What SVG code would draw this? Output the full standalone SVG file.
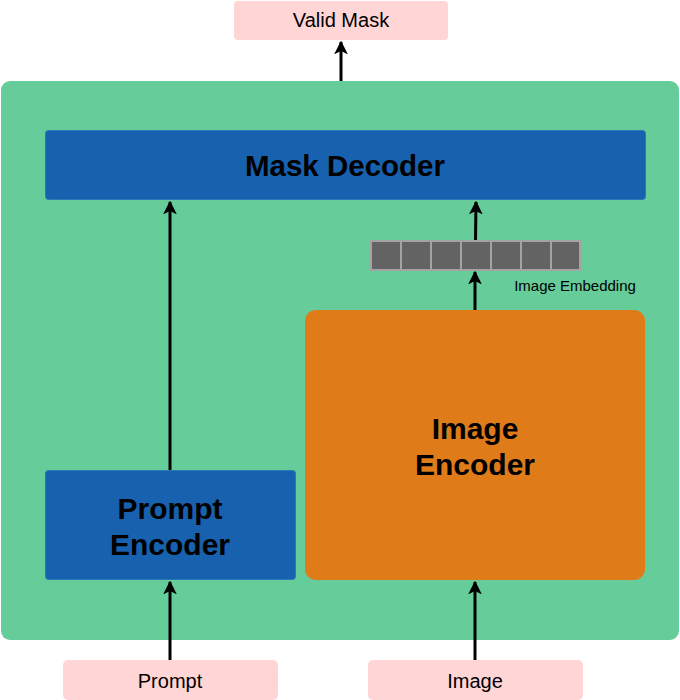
<svg xmlns="http://www.w3.org/2000/svg" width="680" height="700" viewBox="0 0 680 700">
<style>
.pink{fill:#FFD5D5;}
.blue{fill:#1761AE;stroke:#2a78b8;stroke-width:1;}
.lbl{font-family:"Liberation Sans",Arial,sans-serif;fill:#000;text-anchor:middle;}
.big{font-size:30px;font-weight:bold;}
.small{font-size:20px;}
.cell{fill:#636363;stroke:#a3a3a3;stroke-width:2;}
.edge{stroke:#000;stroke-width:3;fill:none;marker-end:url(#ah);}
</style>
<defs>
<marker id="ah" viewBox="0 0 10 10" refX="9" refY="5" markerWidth="4.6" markerHeight="4.6" orient="auto" markerUnits="strokeWidth">
<path d="M0,0 L10,5 L0,10 L2.5,5 Z" fill="#000"/>
</marker>
</defs>
<rect x="0" y="0" width="680" height="700" fill="#fff"/>
<g id="container"><rect x="1" y="81" width="678" height="559" rx="9" fill="#66CC99"/></g>
<g id="valid-mask"><rect class="pink" x="234" y="1" width="214" height="39" rx="4"/><text class="lbl small" x="341" y="27">Valid Mask</text></g>
<g id="mask-decoder"><rect class="blue" x="45.5" y="130.5" width="600" height="69" rx="3"/><text class="lbl big" x="345" y="176" style="font-size:29.5px">Mask Decoder</text></g>
<g id="image-embedding">
<rect class="cell" x="371" y="241" width="30" height="29"/>
<rect class="cell" x="401" y="241" width="30" height="29"/>
<rect class="cell" x="431" y="241" width="30" height="29"/>
<rect class="cell" x="461" y="241" width="30" height="29"/>
<rect class="cell" x="491" y="241" width="30" height="29"/>
<rect class="cell" x="521" y="241" width="30" height="29"/>
<rect class="cell" x="551" y="241" width="29" height="29"/>
<text class="lbl" x="575" y="291" style="font-size:15px">Image Embedding</text>
</g>
<g id="image-encoder"><rect x="305" y="310" width="340" height="270" rx="11" fill="#E07B1A"/><text class="lbl big" x="475" y="439">Image</text><text class="lbl big" x="475" y="475">Encoder</text></g>
<g id="prompt-encoder"><rect class="blue" x="45.5" y="470.5" width="250" height="109" rx="3"/><text class="lbl big" x="170" y="519">Prompt</text><text class="lbl big" x="170" y="555">Encoder</text></g>
<g id="prompt"><rect class="pink" x="63" y="660" width="215" height="40" rx="5"/><text class="lbl small" x="170" y="688">Prompt</text></g>
<g id="image"><rect class="pink" x="368" y="660" width="215" height="40" rx="5"/><text class="lbl small" x="475" y="688">Image</text></g>
<g id="connectors">
<line class="edge" x1="341" y1="81" x2="341" y2="42"/>
<line class="edge" x1="170" y1="470" x2="170" y2="202"/>
<line class="edge" x1="475.5" y1="240" x2="476" y2="202"/>
<line class="edge" x1="475" y1="310" x2="475" y2="272"/>
<line class="edge" x1="170" y1="660" x2="170" y2="582"/>
<line class="edge" x1="475" y1="660" x2="475" y2="582"/>
</g>
</svg>
